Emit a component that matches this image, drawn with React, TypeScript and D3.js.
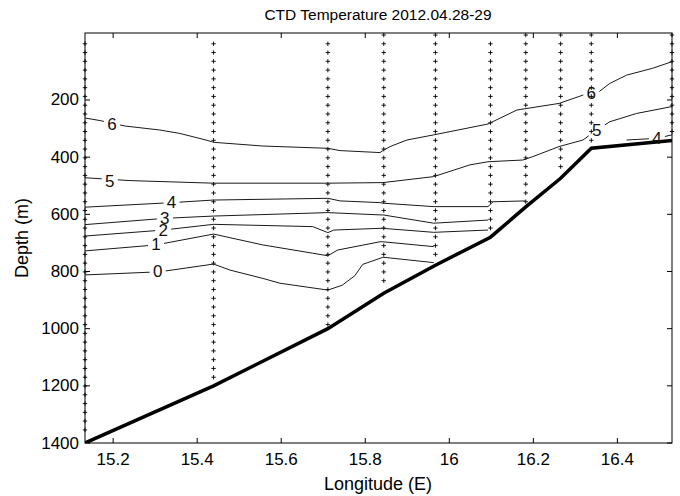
import React from 'react';
import * as d3 from 'd3';

const TITLE = 'CTD Temperature 2012.04.28-29';
const X_LABEL = 'Longitude (E)';
const Y_LABEL = 'Depth (m)';
const X_TICKS = [15.2, 15.4, 15.6, 15.8, 16, 16.2, 16.4];
const Y_TICKS = [200, 400, 600, 800, 1000, 1200, 1400];
const X_DOMAIN: [number, number] = [15.133, 16.53];
const Y_DOMAIN: [number, number] = [-34.4, 1400];

// CTD stations (longitude), first and last sample depth
const stationLon = [15.133, 15.439, 15.711, 15.844, 15.967, 16.098, 16.182, 16.265, 16.338, 16.53];
const stationFirst = [3.3, 3.3, 3.3, -27.4, -27.4, 3.3, -27.4, -27.4, -27.4, -27.4];
const stationLast = [1354, 1170, 986, 862, 741, 648, 556, 433, 341, 310];
const SAMPLE_STEP = 30.7;

// bathymetry
const bathyLon = [15.133, 15.439, 15.711, 15.844, 15.967, 16.098, 16.182, 16.265, 16.338, 16.53];
const bathyDepth = [1400, 1200, 1000, 876, 778, 680, 574, 474, 369, 342];

// isotherms [lon, depth]
const iso6: [number, number][] = [
  [15.133, 263], [15.169, 272], [15.228, 291], [15.311, 305], [15.359, 317], [15.383, 326],
  [15.421, 340], [15.439, 348], [15.556, 361], [15.711, 369], [15.74, 377], [15.835, 384],
  [15.842, 377], [15.859, 363], [15.899, 340], [15.963, 322], [16.092, 284], [16.161, 235],
  [16.261, 212], [16.318, 183], [16.351, 177], [16.382, 142], [16.422, 113], [16.484, 89], [16.53, 66],
];
const iso5: [number, number][] = [
  [15.133, 472], [15.24, 482], [15.439, 491], [15.711, 491], [15.842, 489], [15.963, 468],
  [16.049, 427], [16.092, 416], [16.175, 410], [16.199, 398], [16.261, 363], [16.318, 340],
  [16.351, 305], [16.382, 276], [16.446, 247], [16.53, 223],
];
const iso4: [number, number][] = [
  [15.133, 575], [15.34, 559], [15.439, 550], [15.711, 544], [15.74, 553], [15.835, 559],
  [15.842, 561], [15.963, 573], [16.092, 573], [16.104, 556], [16.182, 553],
];
const iso4b: [number, number][] = [
  [16.422, 340], [16.494, 334], [16.53, 322],
];
const iso3: [number, number][] = [
  [15.133, 636], [15.323, 614], [15.439, 606], [15.711, 594], [15.835, 602], [15.842, 602],
  [15.963, 631], [16.092, 620],
];
const iso2: [number, number][] = [
  [15.133, 676], [15.319, 655], [15.439, 635], [15.675, 643], [15.711, 664], [15.725, 655],
  [15.835, 649], [15.842, 649], [15.963, 663], [16.092, 655],
];
const iso1: [number, number][] = [
  [15.133, 728], [15.302, 707], [15.439, 669], [15.556, 707], [15.675, 736], [15.711, 745],
  [15.734, 725], [15.835, 696], [15.842, 696], [15.963, 713],
];
const iso0: [number, number][] = [
  [15.133, 812], [15.311, 801], [15.439, 774], [15.478, 795], [15.556, 824], [15.597, 841],
  [15.711, 865], [15.745, 848], [15.775, 815], [15.794, 775], [15.835, 754], [15.842, 750],
  [15.906, 760], [15.963, 769],
];

const isotherms = [
  { id: 'i6', pts: iso6, labels: [{ t: '6', lon: 15.197, d: 284 }, { t: '6', lon: 16.338, d: 177 }] },
  { id: 'i5', pts: iso5, labels: [{ t: '5', lon: 15.192, d: 486 }, { t: '5', lon: 16.351, d: 305 }] },
  { id: 'i4', pts: iso4, labels: [{ t: '4', lon: 15.339, d: 559 }] },
  { id: 'i4b', pts: iso4b, labels: [{ t: '4', lon: 16.494, d: 334 }] },
  { id: 'i3', pts: iso3, labels: [{ t: '3', lon: 15.323, d: 614 }] },
  { id: 'i2', pts: iso2, labels: [{ t: '2', lon: 15.319, d: 655 }] },
  { id: 'i1', pts: iso1, labels: [{ t: '1', lon: 15.302, d: 707 }] },
  { id: 'i0', pts: iso0, labels: [{ t: '0', lon: 15.306, d: 801 }] },
];

const W = 680, H = 496;
const L = 85, R = 672, T = 33, B = 443;
const FONT = '"Liberation Sans", Arial, Helvetica, sans-serif';

export default function App() {
  const x = d3.scaleLinear().domain(X_DOMAIN).range([L, R]);
  const y = d3.scaleLinear().domain(Y_DOMAIN).range([T, B]);
  const line = d3.line<[number, number]>().x(p => x(p[0])).y(p => y(p[1]));
  const bathy: [number, number][] = bathyLon.map((v, i) => [v, bathyDepth[i]]);

  const samples: { lon: number; d: number }[] = [];
  stationLon.forEach((lon, i) => {
    for (let d = stationFirst[i]; d <= stationLast[i] + 0.5; d += SAMPLE_STEP) samples.push({ lon, d });
  });

  const tk = 5;
  return (
    <svg width={W} height={H} style={{ position: 'absolute', left: 0, top: 0, background: '#fff' }}
      fontFamily={FONT}>
      <defs>
        <clipPath id="plot"><rect x={L} y={T} width={R - L} height={B - T} /></clipPath>
        {isotherms.map(c => (
          <mask id={'m' + c.id} key={c.id} maskUnits="userSpaceOnUse" x={0} y={0} width={W} height={H}>
            <rect x={0} y={0} width={W} height={H} fill="#fff" />
            {c.labels.map((lb, j) => (
              <rect key={j} x={x(lb.lon) - 8} y={y(lb.d) - 9} width={16} height={18} fill="#000" />
            ))}
          </mask>
        ))}
      </defs>
      <rect x={0} y={0} width={W} height={H} fill="#fff" />
      {samples.map((s, i) => (
        <path key={i} d={`M${x(s.lon) - 2.2},${y(s.d)}h4.4M${x(s.lon)},${y(s.d) - 2.2}v4.4`} stroke="#000" strokeWidth={0.9} />
      ))}
      <g clipPath="url(#plot)">
        {isotherms.map(c => (
          <path key={c.id} d={line(c.pts) || ''} fill="none" stroke="#1a1a1a" strokeWidth={1} mask={`url(#m${c.id})`} />
        ))}
        <path d={line(bathy) || ''} fill="none" stroke="#000" strokeWidth={3.5} strokeLinejoin="miter" />
      </g>
      {isotherms.map(c => c.labels.map((lb, j) => (
        <text key={c.id + j} x={x(lb.lon)} y={y(lb.d)} textAnchor="middle" dominantBaseline="central"
          fontSize={17} fill="#111">{lb.t}</text>
      )))}
      <rect x={L} y={T} width={R - L} height={B - T} fill="none" stroke="#000" strokeWidth={1} />
      {X_TICKS.map(t => (
        <g key={t}>
          <line x1={x(t)} x2={x(t)} y1={B} y2={B - tk} stroke="#000" />
          <line x1={x(t)} x2={x(t)} y1={T} y2={T + tk} stroke="#000" />
          <text x={x(t)} y={465} textAnchor="middle" fontSize={17} fill="#000">{String(t)}</text>
        </g>
      ))}
      {Y_TICKS.map(t => (
        <g key={t}>
          <line x1={L} x2={L + tk} y1={y(t)} y2={y(t)} stroke="#000" />
          <line x1={R} x2={R - tk} y1={y(t)} y2={y(t)} stroke="#000" />
          <text x={79} y={y(t)} textAnchor="end" dominantBaseline="central" fontSize={17} fill="#000">{String(t)}</text>
        </g>
      ))}
      <text x={378} y={20} textAnchor="middle" fontSize={15.5} fill="#000">{TITLE}</text>
      <text x={378} y={490} textAnchor="middle" fontSize={18} fill="#000">{X_LABEL}</text>
      <text transform={`translate(28,${(T + B) / 2}) rotate(-90)`} textAnchor="middle" fontSize={18} fill="#000">{Y_LABEL}</text>
    </svg>
  );
}
